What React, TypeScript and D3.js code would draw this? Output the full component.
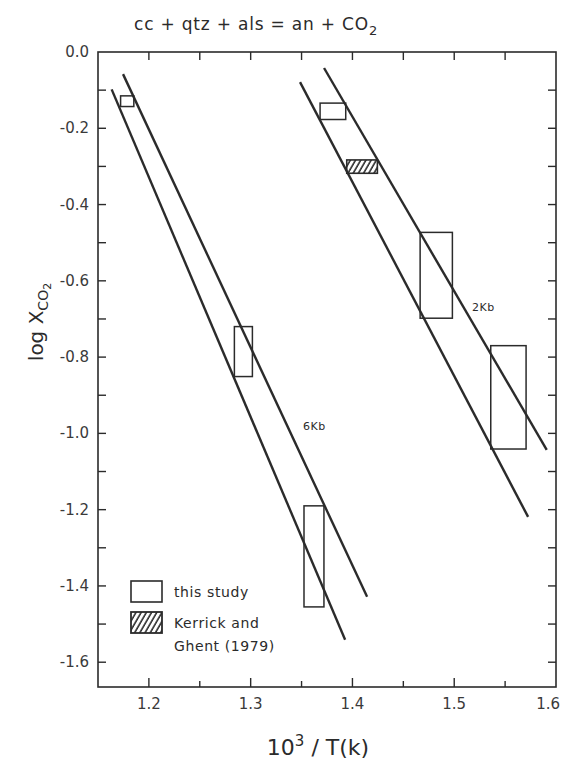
import React from "react";
import * as d3 from "d3";

// reaction lines (6 Kb pair, 2 Kb pair), endpoints in data units
const lineX1 = [1.1634, 1.1746, 1.3485, 1.3721];
const lineY1 = [-0.098, -0.058, -0.079, -0.042];
const lineX2 = [1.3928, 1.4144, 1.5726, 1.5909];
const lineY2 = [-1.541, -1.4286, -1.219, -1.0433];

// "this study" brackets
const boxX0 = [1.1722, 1.284, 1.3524, 1.3682, 1.4665, 1.5359];
const boxX1 = [1.1852, 1.3017, 1.372, 1.3934, 1.4982, 1.5706];
const boxYTop = [-0.115, -0.72, -1.19, -0.134, -0.473, -0.77];
const boxYBot = [-0.143, -0.851, -1.455, -0.177, -0.698, -1.041];

// Kerrick and Ghent (1979)
const kgX = [1.3944, 1.4245];
const kgY = [-0.283, -0.318];

const xTicks = [1.2, 1.3, 1.4, 1.5, 1.6];
const xMinor = [1.15, 1.2, 1.25, 1.3, 1.35, 1.4, 1.45, 1.5, 1.55];
const yTicks = [0, -0.2, -0.4, -0.6, -0.8, -1.0, -1.2, -1.4, -1.6];
const yMinor = [-0.1, -0.2, -0.3, -0.4, -0.5, -0.6, -0.7, -0.8, -0.9, -1.0, -1.1, -1.2, -1.3, -1.4, -1.5, -1.6];

const labels = [
  { text: "6Kb", x: 1.3515, y: -0.99 },
  { text: "2Kb", x: 1.5175, y: -0.68 },
];

const W = 562;
const H = 759;
const ink = "#2b2b2b";
const font = "'DejaVu Sans', sans-serif";

export default function App() {
  const x = d3.scaleLinear().domain([1.15, 1.6]).range([98, 556]);
  const y = d3.scaleLinear().domain([-1.665, 0]).range([687, 52]);
  const [x0, x1] = x.range();
  const [y0, y1] = y.range();
  const tl = 8;

  return (
    <svg width={W} height={H} style={{ position: "absolute", left: 0, top: 0, background: "#fff" }}>
      <defs>
        <pattern id="hatch" patternUnits="userSpaceOnUse" width="4.5" height="4.5" patternTransform="rotate(30)">
          <line x1="1" y1="-1" x2="1" y2="6" stroke={ink} strokeWidth="1.6" />
        </pattern>
      </defs>

      {/* title */}
      <text x={256} y={30} textAnchor="middle" fontFamily={font} fontSize={17} fill={ink} letterSpacing={0.8}>
        cc + qtz + als = an + CO<tspan fontSize={13} dy={5}>2</tspan>
      </text>

      {/* frame */}
      <rect x={x0} y={y1} width={x1 - x0} height={y0 - y1} fill="none" stroke={ink} strokeWidth={1.6} />

      {/* x ticks bottom and top */}
      {xMinor.filter(v => v > 1.16).map(v => {
        const major = xTicks.some(t => Math.abs(t - v) < 1e-6);
        return (
          <g key={"xt" + v} stroke={ink} strokeWidth={1.4}>
            <line x1={x(v)} x2={x(v)} y1={y0} y2={y0 - (major ? tl + 1 : tl - 2)} />
            <line x1={x(v)} x2={x(v)} y1={y1} y2={y1 + tl} />
          </g>
        );
      })}
      {xTicks.map(v => {
        const last = v === 1.6;
        return (
          <text key={"xl" + v} x={last ? 560 : x(v)} y={709} textAnchor={last ? "end" : "middle"}
            fontFamily={font} fontSize={15} fill="#3a3a3a">
            {v.toFixed(1)}
          </text>
        );
      })}

      {/* y ticks left and right */}
      {yMinor.map(v => (
        <g key={"yt" + v} stroke={ink} strokeWidth={1.4}>
          <line x1={x0} x2={x0 + tl} y1={y(v)} y2={y(v)} />
          <line x1={x1} x2={x1 - tl} y1={y(v)} y2={y(v)} />
        </g>
      ))}
      {yTicks.map(v => (
        <text key={"yl" + v} x={89} y={y(v) + 5} textAnchor="end" fontFamily={font} fontSize={15} fill="#3a3a3a">
          {v === 0 ? "0.0" : "-" + Math.abs(v).toFixed(1)}
        </text>
      ))}

      {/* axis titles */}
      <text x={318} y={755} textAnchor="middle" fontFamily={font} fontSize={22} fill={ink}>
        10<tspan fontSize={15} dy={-9}>3</tspan><tspan dy={9}> / T(k)</tspan>
      </text>
      <text transform={`translate(43,322) rotate(-90)`} textAnchor="middle" fontFamily={font} fontSize={20} fill={ink}>
        log X<tspan fontSize={14} dy={5}>CO</tspan><tspan fontSize={11} dy={3}>2</tspan>
      </text>

      {/* reaction lines */}
      {lineX1.map((_, i) => (
        <line key={"ln" + i} x1={x(lineX1[i])} y1={y(lineY1[i])} x2={x(lineX2[i])} y2={y(lineY2[i])}
          stroke={ink} strokeWidth={2.4} />
      ))}

      {/* boxes */}
      {boxX0.map((_, i) => (
        <rect key={"bx" + i} x={x(boxX0[i])} y={y(boxYTop[i])} width={x(boxX1[i]) - x(boxX0[i])}
          height={y(boxYBot[i]) - y(boxYTop[i])} fill="none" stroke={ink} strokeWidth={1.5} />
      ))}
      <rect x={x(kgX[0])} y={y(kgY[0])} width={x(kgX[1]) - x(kgX[0])} height={y(kgY[1]) - y(kgY[0])}
        fill="url(#hatch)" stroke={ink} strokeWidth={1.6} />

      {/* line labels */}
      {labels.map(l => (
        <text key={l.text} x={x(l.x)} y={y(l.y)} fontFamily={font} fontSize={11} fill={ink} letterSpacing={0.5}>
          {l.text}
        </text>
      ))}

      {/* legend */}
      <rect x={131} y={581} width={31} height={21} fill="none" stroke={ink} strokeWidth={1.6} />
      <rect x={131} y={612} width={31} height={21} fill="url(#hatch)" stroke={ink} strokeWidth={1.8} />
      <g fontFamily={font} fontSize={14} fill={ink} letterSpacing={0.6}>
        <text x={174} y={597}>this study</text>
        <text x={174} y={628}>Kerrick and</text>
        <text x={174} y={651}>Ghent (1979)</text>
      </g>
    </svg>
  );
}
